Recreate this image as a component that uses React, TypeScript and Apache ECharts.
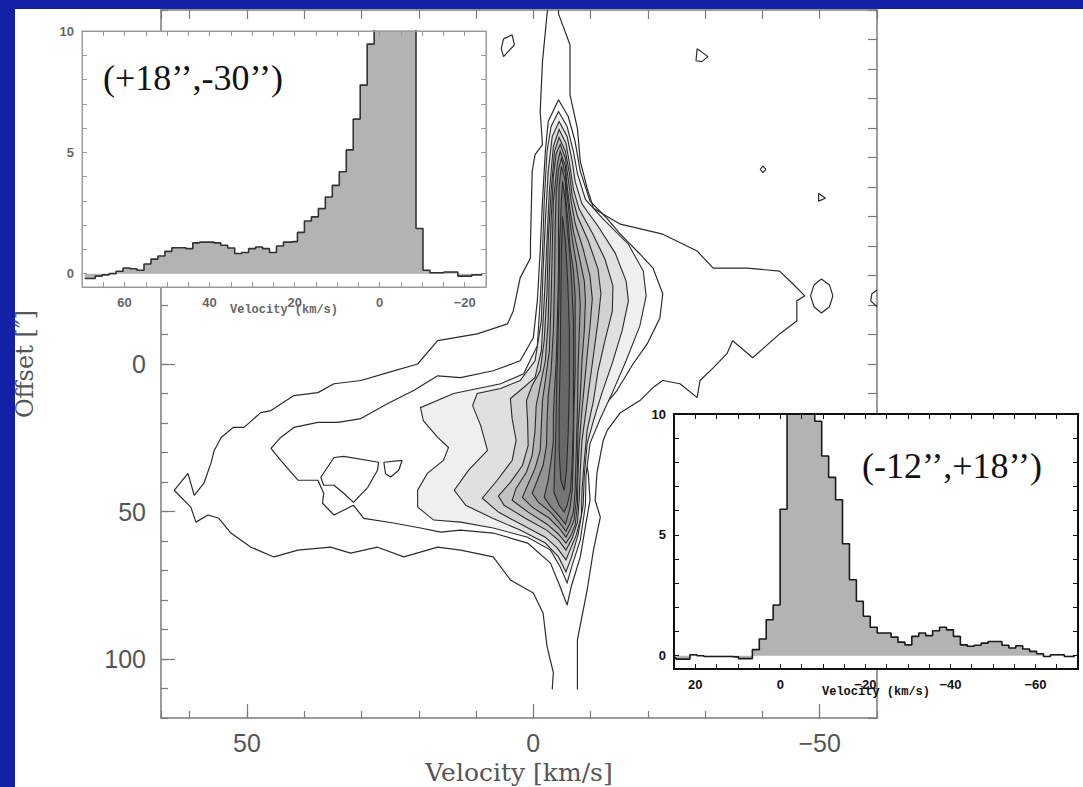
import React, { useEffect, useRef } from 'react';
import * as echarts from 'echarts';

type P = [number, number];

// ---------- Main position-velocity diagram: contours in (velocity km/s, offset ") ----------
const outerLeft: P[] = [[-3.3,110.3],[-3.5,104.6],[-2.4,95.8],[-1.7,84.4],[0,77.6],[4.0,73.2],[7.0,65.4],[12.7,63.1],[16.7,62.1],[22.6,65.4],[27.2,62.1],[31.9,64.1],[35.4,62.1],[41.1,63.1],[45.3,65.4],[49.3,62.1],[52.8,57.3],[54.9,52.3],[56.8,51.2],[58.9,53.6],[59.8,48.5],[62.7,42.8],[60.3,37.1],[59.2,44.5],[57.5,40.4],[56.3,33.7],[55.7,29.3],[54.5,24.9],[52.4,21.5],[50.5,21.5],[47.6,16.5],[45.8,15.8],[41.8,10.7],[37.6,9.7],[34.8,6.7],[30.1,5.6],[25.4,2.9],[20.2,0],[16.7,-7.9],[9.8,-10.2],[4.5,-13.6],[3.5,-18.0],[2.3,-29.2],[0.5,-35.9],[0.5,-40.6],[0.2,-65.3],[-0.3,-71.0],[-1.6,-74.4],[-1.2,-85.6],[-1.6,-102.5],[-2.4,-118.7],[-2.5,-120]];
const outerRight: P[] = [[-4.4,-120],[-4.4,-118.7],[-6.4,-108.2],[-6.4,-91.3],[-7.7,-79.8],[-8.2,-68.7],[-9.4,-59.6],[-10.5,-52.8],[-13.4,-49.4],[-15.2,-47.4],[-22.6,-44.0],[-28.6,-38.3],[-31.4,-32.5],[-37.3,-32.5],[-43.0,-31.5],[-45.3,-27.2],[-47.4,-23.1],[-46.0,-21.4],[-46.0,-14.6],[-43.0,-10.2],[-38.3,-2.1],[-34.8,-7.9],[-33.8,-3.5],[-31.4,1.3],[-29.1,5.6],[-28.6,11.4],[-25.6,6.7],[-22.6,5.6],[-20.9,8.0],[-18.6,12.4],[-15.2,16.5],[-12.9,22.5],[-12.2,25.9],[-11.1,37.1],[-10.8,46.2],[-11.7,51.9],[-10.5,63.1],[-9.4,76.6],[-7.7,93.5],[-7.7,110.3]];
const island1: P[] = [[5.2,-110.2],[3.7,-111.6],[3.3,-108.2],[4.4,-105.9],[5.2,-104.2],[5.6,-106.9],[5.2,-110.2]];
const island2: P[] = [[-28.6,-106.9],[-30.5,-104.2],[-29.4,-102.5],[-28.4,-102.8],[-28.6,-106.9]];
const island3: P[] = [[-39.6,-66.0],[-40.1,-67.1],[-40.6,-66.0],[-40.1,-64.9],[-39.6,-66.0]];
const island4: P[] = [[-49.8,-57.9],[-51.0,-56.2],[-49.8,-55.2],[-49.8,-57.9]];
const island5: P[] = [[-50.3,-28.8],[-51.7,-26.8],[-52.3,-23.1],[-51.7,-19.4],[-50.3,-17.3],[-49.0,-19.4],[-48.4,-23.1],[-49.0,-26.8],[-50.3,-28.8]];
const island6: P[] = [[-60,-25.1],[-59.1,-23.8],[-58.9,-21.4],[-60,-19.4]];
const islandA: P[] = [[37.1,38.4],[34.8,31.7],[33.1,31.3],[27.0,33.3],[27.2,36.0],[28.9,41.8],[31.4,46.9],[33.1,43.8],[34.8,41.1],[36.6,41.1],[37.1,38.4]];
const islandB: P[] = [[26.1,33.3],[22.9,32.7],[23.5,36.0],[24.9,38.3],[25.8,37.2],[26.1,33.3]];
const contour2: P[] = [[-4.4,-89.6],[-6.1,-83.9],[-7.3,-75.4],[-8.2,-65.3],[-9.9,-55.2],[-12.5,-50.1],[-15.2,-44.0],[-18.6,-37.3],[-20.9,-32.5],[-22.6,-23.8],[-22.1,-15.6],[-19.9,-6.9],[-17.4,0],[-14.6,9.0],[-11.7,15.8],[-9.6,22.5],[-8.9,29.3],[-9.6,37.1],[-9.9,46.2],[-9.2,53.9],[-8.2,65.4],[-6.6,75.6],[-5.9,81.7],[-4.7,75.6],[-3.0,67.5],[1.0,60.7],[7.0,57.3],[12.7,56.3],[16.2,57.0],[19.7,55.6],[24.4,53.9],[29.6,52.3],[31.4,47.9],[34.8,51.2],[36.8,47.2],[36.6,43.8],[37.6,39.4],[41.1,39.4],[44.1,32.7],[45.8,28.6],[44.1,24.9],[41.8,21.5],[37.6,19.8],[34.1,19.8],[30.1,18.5],[25.4,13.4],[20.9,9.0],[16.7,4.0],[12.7,4.6],[7.0,2.3],[2.3,-1.1],[0,-8.9],[-0.7,-21.4],[-1.2,-38.3],[-1.6,-55.2],[-2.1,-72.1],[-2.6,-82.2],[-4.4,-89.6]];

const level3: P[] = [[-4.4,-85.6],[-5.9,-80.5],[-7.0,-72.1],[-7.7,-64.6],[-9.1,-55.8],[-12.2,-49.1],[-16.6,-40.6],[-19.2,-31.5],[-19.7,-23.1],[-18.6,-12.9],[-16.2,-1.1],[-13.8,9.7],[-11.7,18.5],[-9.9,26.9],[-9.2,37.7],[-9.1,47.9],[-8.2,59.7],[-6.8,68.1],[-5.9,74.2],[-4.7,68.8],[-3.0,63.1],[1.0,58.7],[7.0,55.6],[12.7,53.6],[17.4,52.9],[20.2,48.5],[20.2,42.8],[18.5,37.1],[15.7,32.7],[14.8,28.3],[16.7,24.9],[19.2,19.2],[19.7,14.8],[13.9,10.0],[5.7,6.7],[1.7,3.3],[-0.7,-6.2],[-1.2,-21.4],[-1.6,-38.3],[-1.9,-55.2],[-2.4,-72.1],[-3.1,-80.5]];
const level4: P[] = [[-4.5,-82.2],[-5.9,-77.1],[-6.8,-68.7],[-7.3,-61.9],[-8.5,-54.2],[-11.3,-46.7],[-14.3,-37.6],[-16.2,-28.1],[-16.6,-21.4],[-15.5,-11.3],[-13.8,-0.4],[-12.0,9.7],[-10.6,18.5],[-9.4,26.9],[-8.9,37.7],[-8.7,47.9],[-7.8,58.0],[-6.6,65.8],[-5.7,70.5],[-4.4,65.4],[-2.1,60.7],[2.3,56.3],[7.1,52.3],[11.8,47.9],[13.8,42.8],[11.3,36.0],[8.0,29.3],[9.2,20.8],[10.6,14.1],[9.8,10.0],[5.7,8.3],[2.3,5.6],[-0.3,-1.1],[-1.4,-14.6],[-1.7,-31.5],[-2.1,-48.4],[-2.6,-65.3],[-3.3,-77.1]];
const level5: P[] = [[-4.5,-79.5],[-5.7,-74.8],[-6.4,-67.0],[-7.0,-59.2],[-8.0,-52.5],[-10.3,-44.4],[-12.5,-35.6],[-13.9,-26.5],[-13.8,-18.0],[-12.5,-7.9],[-11.3,2.3],[-10.5,12.4],[-9.4,22.5],[-8.9,32.7],[-8.5,42.8],[-8.4,51.2],[-7.5,58.0],[-6.4,63.1],[-5.7,66.4],[-4.2,62.4],[-2.1,58.7],[1.9,54.6],[6.1,50.2],[8.9,45.5],[6.3,39.4],[3.7,32.7],[3.0,25.9],[3.7,18.5],[4.0,11.7],[1.9,8.3],[-0.3,4.6],[-1.4,-4.5],[-1.9,-21.4],[-2.3,-38.3],[-2.8,-58.5],[-3.5,-73.8]];
const level6: P[] = [[-4.5,-76.8],[-5.6,-72.1],[-6.3,-64.6],[-6.8,-56.9],[-7.7,-50.1],[-9.6,-41.7],[-11.3,-32.2],[-11.8,-23.8],[-11.3,-14.6],[-10.6,-4.5],[-9.9,5.6],[-9.2,15.8],[-8.5,25.9],[-8.2,36.0],[-8.0,46.2],[-7.7,53.6],[-6.8,59.0],[-5.7,63.1],[-4.4,59.7],[-2.3,56.3],[1.4,52.3],[5.1,47.9],[6.1,44.8],[4.0,40.1],[1.9,34.4],[0.9,27.6],[1.0,19.2],[1.2,12.4],[0.2,7.3],[-1.2,2.3],[-1.9,-7.9],[-2.4,-24.8],[-2.6,-41.7],[-3.1,-58.5],[-3.7,-72.1]];
const level7: P[] = [[-4.7,-74.4],[-5.6,-69.7],[-6.1,-62.6],[-6.6,-55.2],[-7.3,-47.7],[-8.7,-39.0],[-9.9,-29.8],[-10.3,-22.1],[-9.9,-12.9],[-9.4,-2.8],[-8.9,7.3],[-8.4,17.5],[-8.0,27.6],[-7.8,37.7],[-7.7,47.9],[-7.3,54.6],[-6.6,58.0],[-5.7,60.7],[-4.4,57.7],[-2.4,54.3],[0.9,50.2],[3.7,46.2],[3.0,42.1],[1.2,36.7],[0.2,31.0],[-0.3,22.5],[-0.5,14.1],[-1.2,7.3],[-2.1,-1.1],[-2.6,-14.6],[-2.8,-31.5],[-3.1,-48.4],[-3.5,-63.6],[-4.0,-71.4]];
const level8: P[] = [[-4.7,-72.1],[-5.6,-67.0],[-5.9,-60.2],[-6.4,-52.5],[-7.0,-45.0],[-8.0,-36.6],[-8.9,-28.1],[-9.1,-21.4],[-8.9,-11.3],[-8.5,-1.1],[-8.2,10.7],[-7.8,22.5],[-7.7,34.4],[-7.5,46.2],[-7.1,52.9],[-6.4,56.3],[-5.7,58.7],[-4.5,55.6],[-2.8,52.3],[0.2,48.5],[1.9,45.2],[1.0,41.1],[-0.3,35.4],[-1.2,29.3],[-1.4,20.8],[-1.6,12.4],[-2.1,5.6],[-2.8,-4.5],[-3.1,-21.4],[-3.3,-38.3],[-3.5,-55.2],[-4.2,-68.0]];
const level9: P[] = [[-4.9,-69.7],[-5.6,-64.6],[-5.9,-57.5],[-6.3,-50.1],[-6.8,-42.3],[-7.5,-34.2],[-8.0,-26.5],[-8.2,-19.7],[-8.0,-9.6],[-7.8,2.3],[-7.7,15.8],[-7.5,29.3],[-7.3,42.8],[-7.0,50.2],[-6.3,54.3],[-5.7,56.7],[-4.5,53.6],[-3.0,50.2],[-0.9,46.9],[0.2,43.8],[-0.7,39.4],[-1.7,34.4],[-2.3,27.6],[-2.4,19.2],[-2.6,10.7],[-3.1,2.3],[-3.5,-11.3],[-3.7,-28.1],[-3.8,-45.0],[-4.0,-58.5],[-4.4,-66.0]];
const level10: P[] = [[-4.9,-67.0],[-5.6,-61.9],[-5.7,-55.2],[-6.1,-47.7],[-6.4,-40.0],[-7.0,-31.5],[-7.3,-23.1],[-7.3,-11.3],[-7.3,2.3],[-7.1,15.8],[-7.0,29.3],[-6.8,42.8],[-6.4,48.9],[-5.9,52.3],[-5.6,54.3],[-4.5,51.6],[-3.1,48.5],[-1.9,45.2],[-2.6,39.4],[-3.1,32.7],[-3.5,25.9],[-3.5,17.5],[-3.7,9.0],[-4.0,-1.1],[-4.2,-14.6],[-4.4,-31.5],[-4.4,-48.4],[-4.5,-60.2]];
const level11: P[] = [[-5.1,-61.9],[-5.6,-55.2],[-5.9,-46.7],[-6.3,-38.3],[-6.7,-28.1],[-7.0,-14.6],[-7.0,2.3],[-7.0,19.2],[-6.8,32.7],[-6.5,42.8],[-5.9,47.9],[-5.4,50.2],[-4.5,47.9],[-3.6,43.5],[-3.7,36.0],[-3.9,25.9],[-4.0,15.8],[-4.1,5.6],[-4.3,-7.9],[-4.5,-24.8],[-4.6,-41.7],[-4.9,-55.2]];
const level12: P[] = [[-5.1,-50.1],[-5.6,-41.7],[-6.0,-28.1],[-6.3,-11.3],[-6.3,5.6],[-6.1,22.5],[-5.8,36.0],[-5.4,42.8],[-4.8,39.4],[-4.5,29.3],[-4.5,15.8],[-4.7,-1.1],[-4.8,-21.4],[-4.9,-38.3]];

const filledLevels: P[][] = [level3, level4, level5, level6, level7, level8, level9, level10, level11, level12];
const levelFills = ['#efefef', '#e0e0e0', '#d1d1d1', '#c2c2c2', '#b3b3b3', '#a3a3a3', '#949494', '#858585', '#767676', '#686868'];
const openContours: P[][] = [outerLeft, outerRight, contour2, island1, island2, island3, island4, island5, island6, islandA, islandB];

// ---------- Inset spectra (velocity km/s, T) ----------
const spec1Vel = [69.36,67.72,66.08,64.44,62.80,61.16,59.52,57.88,56.24,54.60,52.96,51.32,49.68,48.04,46.40,44.76,43.12,41.48,39.84,38.20,36.56,34.92,33.28,31.64,30.00,28.36,26.72,25.08,23.44,21.80,20.16,18.52,16.88,15.24,13.60,11.96,10.32,8.68,7.04,5.40,3.76,2.12,0.48,-1.16,-2.80,-4.44,-6.08,-7.72,-9.36,-11.00,-12.64,-14.28,-15.92,-17.56,-19.20,-20.84,-22.48,-24.12];
const spec1T = [-0.2,-0.2,-0.1,-0.05,0.0,0.1,0.23,0.2,0.14,0.4,0.6,0.73,0.92,1.07,1.07,1.03,1.27,1.3,1.3,1.27,1.17,1.06,0.83,0.87,1.03,1.1,1.03,0.87,1.14,1.3,1.32,1.7,2.17,2.34,2.68,3.16,3.64,4.2,5.1,6.37,7.77,9.46,13,17,20,19,15,11,1.86,0.14,0.04,0.04,0.07,0.07,-0.1,-0.1,-0.05,-0.05];
const spec2Vel = [25.32,23.69,22.06,20.43,18.80,17.17,15.54,13.91,12.28,10.65,9.02,7.39,5.76,4.13,2.50,0.87,-0.77,-2.40,-4.03,-5.66,-7.29,-8.92,-10.55,-12.18,-13.81,-15.44,-17.07,-18.70,-20.33,-21.96,-23.59,-25.22,-26.85,-28.48,-30.11,-31.74,-33.37,-35.00,-36.63,-38.26,-39.89,-41.52,-43.15,-44.78,-46.41,-48.04,-49.67,-51.30,-52.93,-54.56,-56.19,-57.82,-59.45,-61.08,-62.71,-64.34,-65.97,-67.60,-69.23];
const spec2T = [-0.1,-0.14,-0.14,0.04,0.0,-0.03,-0.03,-0.03,-0.03,-0.05,-0.12,-0.12,0.25,0.69,1.49,2.1,6.06,13,16,14,11,9.7,8.26,7.38,6.45,4.63,3.14,2.25,1.63,1.18,0.94,0.94,0.77,0.56,0.45,0.8,0.94,0.83,1.03,1.18,1.07,0.8,0.45,0.39,0.43,0.52,0.59,0.59,0.43,0.32,0.41,0.28,0.18,0.08,-0.03,0.04,0.04,-0.03,-0.03];

// ---------- Tick labels ----------
const mainVelLabels = [50, 0, -50];
const mainOffLabels = [0, 50, 100];
const mainOffMajor = [-100, -50, 0, 50, 100];
const insetTTicks = [0, 1, 2, 3, 4, 5, 6, 7, 8, 9, 10];
const insetTLabels = [0, 5, 10];
const inset1VelLabels = [60, 40, 20, 0, -20];
const inset2VelLabels = [20, 0, -20, -40, -60];
const inset1Title = '(+18’’,-30’’)';
const inset2Title = '(-12’’,+18’’)';

const minus = (v: number) => (v < 0 ? '−' + Math.abs(v) : String(v));
const LINE = '#2b2b2b';

function polySeries(pts: P[], fill: string, z: number) {
  return {
    type: 'custom', coordinateSystem: 'cartesian2d', xAxisIndex: 0, yAxisIndex: 0,
    silent: true, clip: true, z,
    data: [pts[0]],
    renderItem: (_p: any, api: any) => ({
      type: 'polygon',
      shape: { points: pts.map((p) => api.coord(p)) },
      style: { fill, stroke: LINE, lineWidth: 1.1 },
    }),
  };
}

function lineSeries(pts: P[]) {
  return {
    type: 'line', xAxisIndex: 0, yAxisIndex: 0, data: pts, symbol: 'none', silent: true, clip: true,
    lineStyle: { color: LINE, width: 1.2 }, z: 3,
  };
}

function specSeries(vel: number[], t: number[], xi: number, yi: number, lineColor: string) {
  return {
    type: 'line', xAxisIndex: xi, yAxisIndex: yi, step: 'middle', symbol: 'none', silent: true, clip: true,
    data: vel.map((v, i) => [v, t[i]]),
    lineStyle: { color: lineColor, width: 1.6 },
    areaStyle: { color: '#b3b3b3', opacity: 1, origin: 0 },
    z: 15,
    markLine: { silent: true, symbol: 'none', label: { show: false }, lineStyle: { color: lineColor, width: 1.5, type: 'solid' }, data: [{ yAxis: 0 }] },
  };
}

function insetAxes(grid: number, min: number, max: number, velLabels: number[], color: string, labColor: string, lw: number) {
  const common = { gridIndex: grid, type: 'value', min, max, inverse: true, interval: 5, z: 20,
    axisLine: { show: true, onZero: false, lineStyle: { color, width: lw } }, splitLine: { show: false },
    axisTick: { show: true, inside: true, length: 5, lineStyle: { color, width: 1 } } };
  const x = [
    { ...common, position: 'bottom',
      axisLabel: { customValues: velLabels, formatter: minus, fontSize: 13, fontWeight: 'bold', color: labColor, fontFamily: 'Liberation Sans', margin: 9 },
      name: 'Velocity (km/s)', nameLocation: 'middle', nameGap: 17, nameMoveOverlap: false,
      nameTextStyle: { fontSize: 12, fontWeight: 'bold', color: labColor, fontFamily: 'Liberation Mono' } },
    { ...common, position: 'top', axisLabel: { show: false } },
  ];
  const ycommon = { gridIndex: grid, type: 'value', min: -0.55, max: 10, z: 20,
    axisLine: { show: true, onZero: false, lineStyle: { color, width: lw } }, splitLine: { show: false },
    axisTick: { show: true, inside: true, length: 5, customValues: insetTTicks, lineStyle: { color, width: 1 } } };
  const y = [
    { ...ycommon, position: 'left', axisLabel: { customValues: insetTLabels, fontSize: 13, fontWeight: 'bold', color: labColor, fontFamily: 'Liberation Sans', margin: 8 } },
    { ...ycommon, position: 'right', axisLabel: { show: false } },
  ];
  return { x, y };
}

export default function App() {
  const ref = useRef<HTMLDivElement>(null);
  useEffect(() => {
    if (!ref.current) return;
    const chart = echarts.init(ref.current, undefined, { renderer: 'svg' });
    const axisGray = '#7a7a7a';
    const mainX = { gridIndex: 0, type: 'value', min: -60, max: 65, inverse: true, splitLine: { show: false } };
    const mainY = { gridIndex: 0, type: 'value', min: -120, max: 120, inverse: true, splitLine: { show: false } };
    const lineOn = { show: true, onZero: false, lineStyle: { color: axisGray, width: 1.5 } };
    const lineOff = { show: false, onZero: false };
    const i1 = insetAxes(1, -25, 70, inset1VelLabels, '#9a9a9a', '#666', 1);
    const i2 = insetAxes(2, -70, 25, inset2VelLabels, '#111', '#111', 2);

    const series: any[] = [];
    filledLevels.forEach((pts, i) => series.push(polySeries(pts, levelFills[i], 4 + i)));
    openContours.forEach((pts) => series.push(lineSeries(pts)));
    series.push(specSeries(spec1Vel, spec1T, 3, 3, '#333'));
    series.push(specSeries(spec2Vel, spec2T, 5, 5, '#1a1a1a'));

    chart.setOption({
      animation: false,
      backgroundColor: '#ffffff',
      grid: [
        { left: 161, top: 10, width: 716, height: 708, show: false, outerBoundsMode: 'none' },
        { left: 82, top: 31, width: 404, height: 256, show: true, backgroundColor: '#ffffff', borderColor: '#9a9a9a', borderWidth: 1, z: 10, outerBoundsMode: 'none' },
        { left: 674, top: 414, width: 404, height: 255, show: true, backgroundColor: '#ffffff', borderColor: '#111', borderWidth: 2, z: 10, outerBoundsMode: 'none' },
      ],
      xAxis: [
        { ...mainX, position: 'bottom', interval: 10, axisLine: lineOn,
          axisTick: { show: true, inside: true, length: 7, lineStyle: { color: axisGray, width: 1.2 } },
          axisLabel: { customValues: mainVelLabels, formatter: minus, fontSize: 25, color: '#555', fontFamily: 'Liberation Sans', margin: 12 },
          name: 'Velocity [km/s]', nameLocation: 'middle', nameGap: 42, nameMoveOverlap: false,
          nameTextStyle: { fontSize: 25, color: '#555', fontFamily: 'DejaVu Serif' } },
        { ...mainX, position: 'bottom', axisLine: lineOff, axisLabel: { show: false },
          axisTick: { show: true, inside: true, length: 14, customValues: mainVelLabels, lineStyle: { color: axisGray, width: 1.2 } } },
        { ...mainX, position: 'top', interval: 10, axisLabel: { show: false }, axisLine: lineOn,
          axisTick: { show: true, inside: true, length: 9, lineStyle: { color: axisGray, width: 1.2 } } },
        ...i1.x,
        ...i2.x,
      ],
      yAxis: [
        { ...mainY, position: 'left', interval: 10, axisLine: lineOn,
          axisTick: { show: true, inside: true, length: 7, lineStyle: { color: axisGray, width: 1.2 } },
          axisLabel: { customValues: mainOffLabels, formatter: minus, fontSize: 25, color: '#555', fontFamily: 'Liberation Sans', margin: 15 },
          name: 'Offset [″]', nameLocation: 'middle', nameGap: 124, nameRotate: 90, nameMoveOverlap: false,
          nameTextStyle: { fontSize: 24, color: '#555', fontFamily: 'DejaVu Serif' } },
        { ...mainY, position: 'left', axisLine: lineOff, axisLabel: { show: false },
          axisTick: { show: true, inside: true, length: 14, customValues: mainOffMajor, lineStyle: { color: axisGray, width: 1.2 } } },
        { ...mainY, position: 'right', interval: 10, axisLabel: { show: false }, axisLine: lineOn,
          axisTick: { show: true, inside: true, length: 9, lineStyle: { color: axisGray, width: 1.2 } } },
        ...i1.y,
        ...i2.y,
      ],
      series,
      graphic: [
        { type: 'rect', shape: { x: 0, y: 0, width: 1083, height: 9 }, style: { fill: '#1221a6' }, z: 100, silent: true },
        { type: 'rect', shape: { x: 0, y: 0, width: 15, height: 787 }, style: { fill: '#1221a6' }, z: 100, silent: true },
        { type: 'text', x: 103, y: 78, z: 50, silent: true,
          style: { text: inset1Title, fontSize: 36, fontFamily: 'Liberation Serif', fill: '#111', verticalAlign: 'middle' } },
        { type: 'text', x: 862, y: 466, z: 50, silent: true,
          style: { text: inset2Title, fontSize: 36, fontFamily: 'Liberation Serif', fill: '#111', verticalAlign: 'middle' } },
      ],
    });
    return () => chart.dispose();
  }, []);
  return <div ref={ref} style={{ position: 'fixed', left: 0, top: 0, width: 1083, height: 787, background: '#fff' }} />;
}
